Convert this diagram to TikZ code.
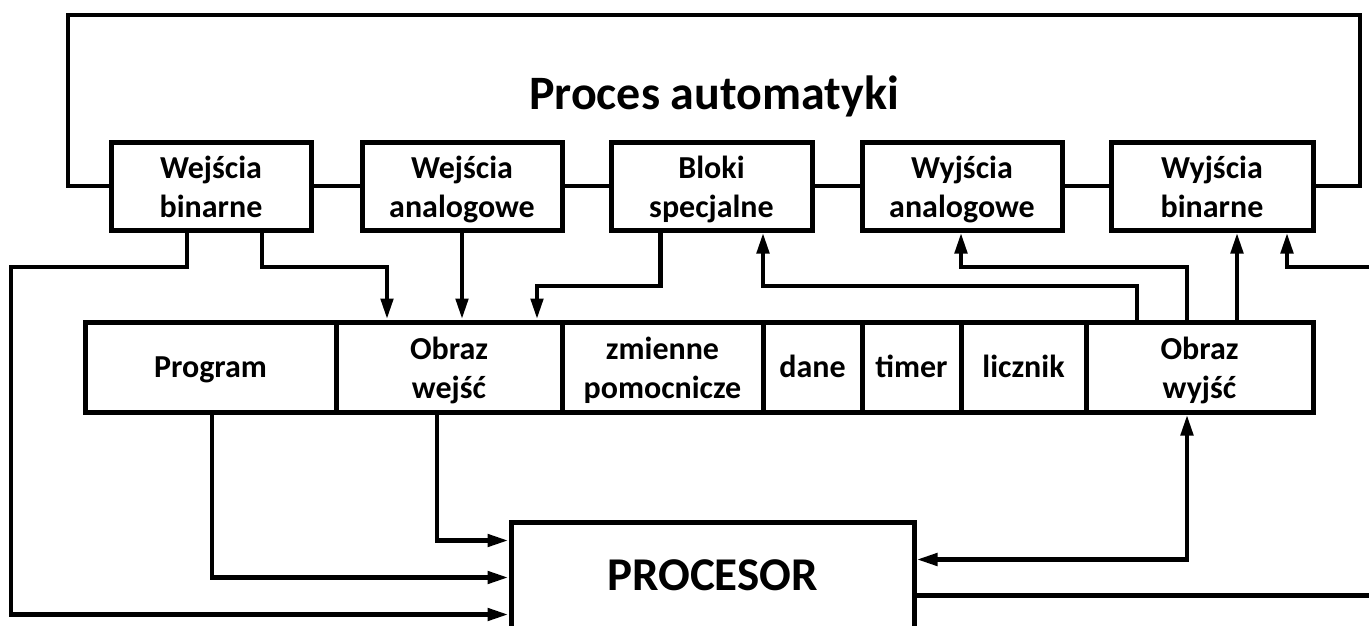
\documentclass[tikz,border=0pt]{standalone}
\usepackage{fontspec}
\setmainfont{Carlito}
\usetikzlibrary{arrows.meta}
\begin{document}
\begin{tikzpicture}[x=1pt,y=-1pt,
  txt/.style={font=\bfseries\fontsize{32}{39}\selectfont},
  box/.style={txt, draw, line width=5pt, inner sep=0pt, minimum height=88pt, align=center, text height=63pt, text depth=1pt},
  cell/.style={txt, draw, line width=5pt, inner sep=0pt, minimum height=90pt, align=center, text height=63pt, text depth=1pt},
  cell1/.style={txt, draw, line width=5pt, inner sep=0pt, minimum height=90pt, align=center, text height=22pt, text depth=2pt},
  wire/.style={line width=4.6pt},
  arr/.style={wire, -{Triangle[length=21pt,width=12pt]}},
  dblarr/.style={wire, {Triangle[length=21pt,width=12pt]}-{Triangle[length=21pt,width=12pt]}},
]
\useasboundingbox (0,0) rectangle (1369,626);
\clip (0,0) rectangle (1369,626);
\fill[white] (0,0) rectangle (1369,626);

% title
\node[anchor=base, font=\bfseries\fontsize{48}{56}\selectfont] (title) at (714,110) {Proces automatyki};

% top boxes
\node[box, minimum width=200pt] (b1) at (211,186) {Wejścia\\binarne};
\node[box, minimum width=200pt] (b2) at (462,186) {Wejścia\\analogowe};
\node[box, minimum width=201pt] (b3) at (711.5,186) {Bloki\\specjalne};
\node[box, minimum width=200pt] (b4) at (962,186) {Wyjścia\\analogowe};
\node[box, minimum width=202pt] (b5) at (1212,186) {Wyjścia\\binarne};

% middle row
\node[cell1, minimum width=251pt] (prog) at (210.5,367) {Program};
\node[cell, minimum width=226pt] (obwe) at (449,367) {Obraz\\wejść};
\node[cell, minimum width=201pt] (zm) at (662.5,367) {zmienne\\pomocnicze};
\node[cell1, minimum width=99pt] (dane) at (812.5,367) {dane};
\node[cell1, minimum width=99pt] (timer) at (911.5,367) {timer};
\node[cell1, minimum width=125pt] (licz) at (1023.5,367) {licznik};
\node[cell, minimum width=227pt] (obwy) at (1199.5,367) {Obraz\\wyjść};

% processor
\node[draw, line width=5pt, minimum width=403pt, minimum height=160pt, anchor=north] (proc) at (712.5,520) {};
\node[anchor=base, font=\bfseries\fontsize{47}{55}\selectfont] (proctxt) at (712.5,590) {PROCESOR};

% process loop
\draw[wire] (b1.west) -| (68,15) -| (1360,186) -- (b5.east);
\draw[wire] (b1.east) -- (b2.west);
\draw[wire] (b2.east) -- (b3.west);
\draw[wire] (b3.east) -- (b4.west);
\draw[wire] (b4.east) -- (b5.west);

% inputs to image of inputs
\draw[arr] ([xshift=51pt]b1.south) |- (387,267) -- ([xshift=-62pt]obwe.north);
\draw[arr] (b2.south) -- (b2.south |- obwe.north);
\draw[arr] ([xshift=-51pt]b3.south) |- (537,286) -- ([xshift=88pt]obwe.north);

% outputs image to outputs
\draw[arr] ([xshift=-62.5pt]obwy.north) |- (763,286) -- ([xshift=51.5pt]b3.south);
\draw[arr] ([xshift=-12.5pt]obwy.north) |- (961,267) -- ([xshift=-1pt]b4.south);
\draw[arr] ([xshift=37.5pt]obwy.north) -- ([xshift=25pt]b5.south);
\draw[arr] (1380,267) -| ([xshift=75pt]b5.south);

% to processor
\draw[arr] ([xshift=-24pt]b1.south) |- (11,267) |- ([yshift=-12pt]proc.west);
\draw[arr] ([xshift=1.5pt]prog.south) |- ([yshift=25pt]proc.west);
\draw[arr] ([xshift=-12pt]obwe.south) |- ([yshift=62pt]proc.west);
\draw[dblarr] ([yshift=43pt]proc.east) -| ([xshift=-12.5pt]obwy.south);
\draw[wire] ([yshift=7pt]proc.east) -- ++(470,0);
\end{tikzpicture}
\end{document}
